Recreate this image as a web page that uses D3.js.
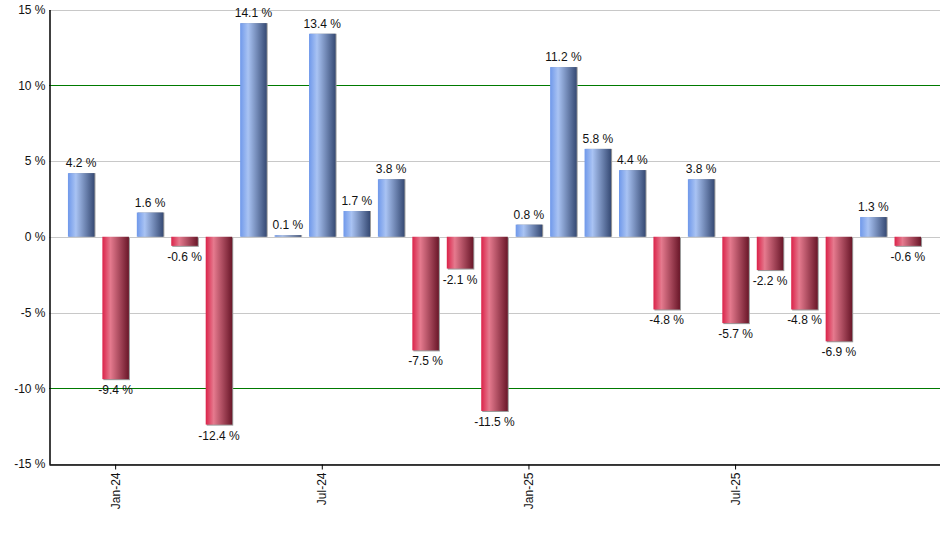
<!DOCTYPE html>
<html>
<head>
<meta charset="utf-8">
<script src="https://cdn.jsdelivr.net/npm/d3@7"></script>
<style>
  body { margin: 0; background: #fff; }
  text { font-family: "Liberation Sans", Arial, sans-serif; }
</style>
</head>
<body>
<script>
// monthly returns, Dec-23 .. Dec-25
var months = ['Dec-23', 'Jan-24', 'Feb-24', 'Mar-24', 'Apr-24', 'May-24', 'Jun-24',
  'Jul-24', 'Aug-24', 'Sep-24', 'Oct-24', 'Nov-24', 'Dec-24',
  'Jan-25', 'Feb-25', 'Mar-25', 'Apr-25', 'May-25', 'Jun-25',
  'Jul-25', 'Aug-25', 'Sep-25', 'Oct-25', 'Nov-25', 'Dec-25'];
var returns = [4.2, -9.4, 1.6, -0.6, -12.4, 14.1, 0.1, 13.4, 1.7, 3.8, -7.5, -2.1, -11.5,
  0.8, 11.2, 5.8, 4.4, -4.8, 3.8, -5.7, -2.2, -4.8, -6.9, 1.3, -0.6];
var yTicks = [-15, -10, -5, 0, 5, 10, 15];
var greenLines = [-10, 10];
var xTickLabels = ['Jan-24', 'Jul-24', 'Jan-25', 'Jul-25'];

var width = 940;
var height = 550;
// plot edges (note: "top" is reserved on window)
var plotLeft = 49, plotRight = 940, plotTop = 9.5, plotBottom = 464;

var svg = d3.select('body').append('svg')
  .attr('width', width)
  .attr('height', height);

var defs = svg.append('defs');
function gradient(id, c1, c2, c3) {
  var g = defs.append('linearGradient').attr('id', id)
    .attr('x1', '0%').attr('x2', '100%').attr('y1', '0%').attr('y2', '0%');
  g.append('stop').attr('offset', '0%').attr('stop-color', c1);
  g.append('stop').attr('offset', '30%').attr('stop-color', c2);
  g.append('stop').attr('offset', '100%').attr('stop-color', c3);
}
gradient('blueGrad', '#6f98ea', '#a9c3f3', '#364a74');
gradient('redGrad', '#db2249', '#e57a8e', '#6a1729');

var x = d3.scaleBand()
  .domain(months)
  .range([plotLeft, plotRight])
  .paddingInner(0.23)
  .paddingOuter(0.55);

var y = d3.scaleLinear()
  .domain([-15, 15])
  .range([plotBottom, plotTop]);

// hyphen minus like the original, not d3's unicode minus
function pct(v) { return v.toFixed(1) + ' %'; }

// grid lines
svg.append('g').selectAll('line')
  .data(yTicks)
  .enter().append('line')
  .attr('x1', plotLeft)
  .attr('x2', plotRight)
  .attr('y1', function(d) { return Math.round(y(d)) + 0.5; })
  .attr('y2', function(d) { return Math.round(y(d)) + 0.5; })
  .attr('stroke', function(d) { return greenLines.indexOf(d) >= 0 ? '#007a00' : '#c8c8c8'; })
  .attr('stroke-width', function(d) { return greenLines.indexOf(d) >= 0 ? 1.2 : 1; });

// bars
var bars = svg.append('g');
returns.forEach(function(v, i) {
  var bx = x(months[i]);
  var y0 = y(Math.max(0, v));
  var h = Math.abs(y(v) - y(0));
  // shadow
  bars.append('rect')
    .attr('x', bx + 1)
    .attr('y', y0 + (v < 0 ? 1 : 0))
    .attr('width', x.bandwidth())
    .attr('height', h)
    .attr('fill', '#9a9a9a');
  bars.append('rect')
    .attr('x', bx)
    .attr('y', y0)
    .attr('width', x.bandwidth())
    .attr('height', h)
    .attr('fill', v >= 0 ? 'url(#blueGrad)' : 'url(#redGrad)');
  bars.append('text')
    .attr('x', bx + x.bandwidth() / 2)
    .attr('y', v >= 0 ? y(v) - 6 : y(v) + 15)
    .attr('text-anchor', 'middle')
    .attr('font-size', '12px')
    .attr('fill', '#111')
    .text(pct(v));
});

// y axis
var yAxis = d3.axisLeft(y)
  .tickValues(yTicks)
  .tickSize(0)
  .tickPadding(4)
  .tickFormat(function(d) { return d + ' %'; });
var yg = svg.append('g')
  .attr('transform', 'translate(' + (plotLeft + 0.5) + ',0)')
  .call(yAxis);
yg.select('.domain').attr('stroke', '#000').attr('stroke-width', 1.5);
yg.selectAll('text').attr('font-size', '12px').attr('fill', '#111')
  .attr('font-family', '"Liberation Sans", Arial, sans-serif');

// x axis
var xAxis = d3.axisBottom(x)
  .tickValues(xTickLabels)
  .tickSize(5)
  .tickSizeOuter(0)
  .tickPadding(4);
var xg = svg.append('g')
  .attr('transform', 'translate(0,' + (plotBottom + 0.5) + ')')
  .call(xAxis);
xg.select('.domain').attr('stroke', '#000').attr('stroke-width', 1.5);
xg.selectAll('.tick line').attr('stroke', '#000');
xg.selectAll('text')
  .attr('font-size', '12px')
  .attr('fill', '#111')
  .attr('font-family', '"Liberation Sans", Arial, sans-serif')
  .attr('transform', 'rotate(-90)')
  .attr('text-anchor', 'end')
  .attr('x', -8)
  .attr('y', 0)
  .attr('dy', '0.35em');
</script>
</body>
</html>
